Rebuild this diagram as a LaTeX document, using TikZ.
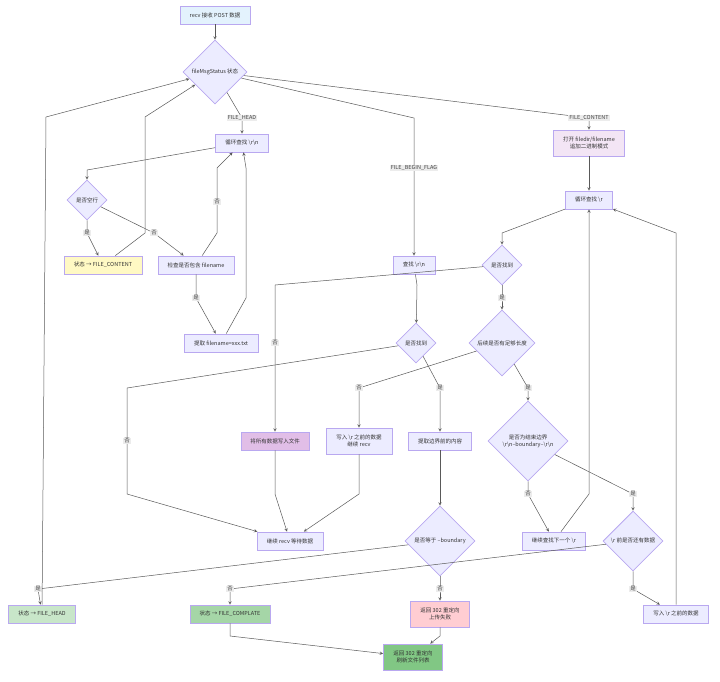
\documentclass[tikz,border=0pt]{standalone}
\usepackage{fontspec}
\setmainfont{Noto Sans CJK SC}
\usepackage{xcolor}
\usetikzlibrary{shapes,arrows}
\definecolor{boxfill}{HTML}{ECECFF}
\definecolor{boxline}{HTML}{B9A8F0}
\definecolor{headfill}{HTML}{C8E6C9}
\definecolor{donefill}{HTML}{A5D6A7}
\definecolor{okfill}{HTML}{81C784}
\definecolor{failfill}{HTML}{FFCDD2}
\definecolor{writefill}{HTML}{E1BEE7}
\definecolor{openfill}{HTML}{F3E5F5}
\definecolor{contentfill}{HTML}{FFF9C4}
\definecolor{recvfill}{HTML}{E3F2FD}
\newcommand{\bs}{\textbackslash}

\begin{document}
\begin{tikzpicture}[x=1pt,y=-1pt,
    block/.style={rectangle, draw=boxline, fill=boxfill, line width=0.8pt, font=\fontsize{5.5}{7}\selectfont, text=black!80, align=center, inner sep=2pt, minimum height=18},
    decision/.style={diamond, draw=boxline, fill=boxfill, line width=0.8pt, font=\fontsize{5.5}{7}\selectfont, text=black!80, align=center, inner sep=0pt, aspect=1},
    lbl/.style={fill=gray!15, inner sep=1pt, text=black!75, font=\fontsize{5.5}{7}\selectfont},
    arrow/.style={draw=gray!70!black, line width=0.5pt, ->, >=stealth}]

    \useasboundingbox (0,0) rectangle (720,681);

    % left branch: header
    \node[block, fill=recvfill, minimum width=70] (recv) at (215,15) {recv 接收 POST 数据};
    \node[decision, minimum size=64] (status) at (215,72) {fileMsgStatus 状态};
    \node[block, minimum width=53] (loophead) at (242,143) {循环查找 \bs r\bs n};
    \node[decision, minimum size=40] (empty) at (87,200) {是否空行};
    \node[block, fill=contentfill, minimum width=78] (tocontent) at (103,265) {状态 → FILE\_CONTENT};
    \node[block, minimum width=76] (checkname) at (196,265) {检查是否包含 filename};
    \node[block, minimum width=74] (getname) at (221,343) {提取 filename=xxx.txt};

    % right branch: content
    \node[block, fill=openfill, minimum width=71, minimum height=26] (openfile) at (589,143) {打开 filedir/filename\\追加二进制模式};
    \node[block, minimum width=47] (loopcr) at (589,200) {循环查找 \bs r};
    \node[decision, minimum size=40] (found) at (502,265) {是否找到};
    \node[decision, minimum size=66] (enough) at (502,343) {后续是否有足够长度};
    \node[decision, minimum size=80] (isend) at (528,441) {是否为结束边界\\\bs r\bs n--boundary--\bs r\bs n};
    \node[block, minimum width=63] (nextcr) at (554,541) {继续查找下一个 \bs r};
    \node[decision, minimum size=60] (hasdata) at (633,541) {\bs r 前是否还有数据};
    \node[block, minimum width=65] (writecr) at (676,614) {写入 \bs r 之前的数据};
    \node[block, fill=writefill, minimum width=68] (writeall) at (275,441) {将所有数据写入文件};
    \node[block, minimum width=66, minimum height=26] (writebefore) at (359,441) {写入 \bs r 之前的数据\\继续 recv};

    % middle branch: boundary
    \node[block, minimum width=42] (findrn) at (414,265) {查找 \bs r\bs n};
    \node[decision, minimum size=40] (foundrn) at (416,343) {是否找到};
    \node[block, minimum width=63] (getbound) at (440,441) {提取边界前的内容};
    \node[decision, minimum size=70] (isbound) at (440,541) {是否等于 --boundary};
    \node[block, minimum width=66] (waitrecv) at (290,541) {继续 recv 等待数据};
    \node[block, fill=headfill, minimum width=67] (tohead) at (42,614) {状态 → FILE\_HEAD};
    \node[block, fill=donefill, minimum width=80] (tocomplete) at (230,614) {状态 → FILE\_COMPLATE};
    \node[block, fill=failfill, minimum width=59, minimum height=26] (failed) at (440,614) {返回 302 重定向\\上传失败};
    \node[block, fill=okfill, minimum width=59, minimum height=26] (success) at (413,657) {返回 302 重定向\\刷新文件列表};

    \draw[arrow] (recv) -- (status);
    \draw[arrow] (status) -- (242,118) node[lbl] {FILE\_HEAD} -- (loophead);
    \draw[arrow] (status) -- (414,118) -- (414,168) node[lbl] {FILE\_BEGIN\_FLAG} -- (findrn);
    \draw[arrow] (status) -- (589,118) node[lbl] {FILE\_CONTENT} -- (openfile);

    \draw[arrow] (loophead) -- (87,170) -- (empty);
    \draw[arrow] (empty) -- (87,233) node[lbl] {是} -- (tocontent);
    \draw[arrow] (empty) -- (154,233) node[lbl] {否} -- (checkname);
    \draw[arrow] (tocontent) -- (145,233) -- (145,117) -- (status);
    \draw[arrow] (checkname) -- (217,233) -- (217,202) node[lbl] {否} -- (217,168) -- (loophead);
    \draw[arrow] (checkname) -- (196,298) node[lbl] {是} -- (getname);
    \draw[arrow] (getname) -- (246,298) -- (246,168) -- (loophead);

    \draw[arrow] (openfile) -- (loopcr);
    \draw[arrow] (loopcr) -- (502,233) -- (found);
    \draw[arrow] (found) -- (275,285) -- (275,343) node[lbl] {否} -- (writeall);
    \draw[arrow] (found) -- (502,298) node[lbl] {是} -- (enough);
    \draw[arrow] (enough) -- (359,388) node[lbl] {否} -- (writebefore);
    \draw[arrow] (enough) -- (528,388) node[lbl] {是} -- (isend);
    \draw[arrow] (isend) -- (528,494) node[lbl] {否} -- (nextcr);
    \draw[arrow] (isend) -- (633,494) node[lbl] {是} -- (hasdata);
    \draw[arrow] (nextcr) -- (589,494) -- (loopcr);
    \draw[arrow] (hasdata) -- (633,589) node[lbl] {是} -- (writecr);
    \draw[arrow] (writecr) -- (676,233) -- (loopcr);
    \draw[arrow] (writeall) -- (275,494) -- (waitrecv);
    \draw[arrow] (writebefore) -- (359,494) -- (waitrecv);

    \draw[arrow] (findrn) -- (417,285) -- (foundrn);
    \draw[arrow] (foundrn) -- (127,388) -- (127,441) node[lbl] {否} -- (127,494) -- (waitrecv);
    \draw[arrow] (foundrn) -- (440,388) node[lbl] {是} -- (getbound);
    \draw[arrow] (getbound) -- (isbound);
    \draw[arrow] (isbound) -- (38,589) node[lbl] {是} -- (tohead);
    \draw[arrow] (hasdata) -- (230,589) node[lbl] {否} -- (tocomplete);
    \draw[arrow] (isbound) -- (440,589) node[lbl] {否} -- (failed);
    \draw[arrow] (tohead) -- (46,117) -- (status);
    \draw[arrow] (tocomplete) -- (230,636) -- (success);
    \draw[arrow] (failed) -- (440,636) -- (success);
\end{tikzpicture}
\end{document}
